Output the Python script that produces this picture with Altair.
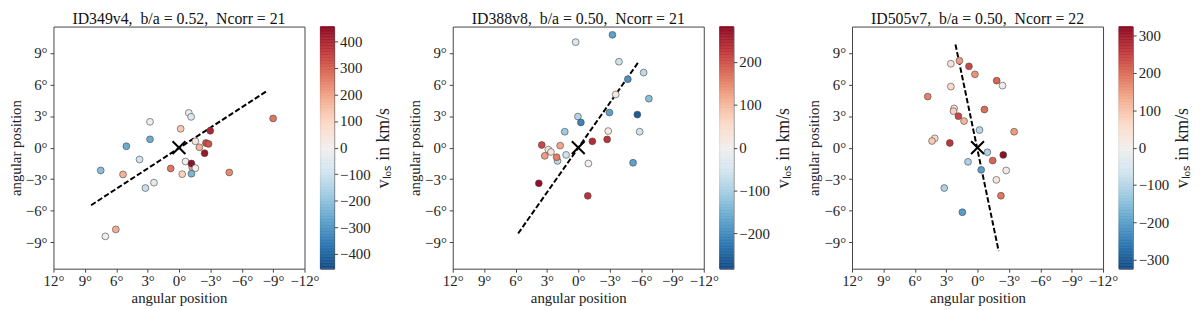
import altair as alt
import numpy as np
import pandas as pd

FONT = "Liberation Serif"
SP = "\u00a0"

titles = [
    f"ID349v4,{SP}{SP}b/a{SP}={SP}0.52,{SP}{SP}Ncorr{SP}={SP}21",
    f"ID388v8,{SP}{SP}b/a{SP}={SP}0.50,{SP}{SP}Ncorr{SP}={SP}21",
    f"ID505v7,{SP}{SP}b/a{SP}={SP}0.50,{SP}{SP}Ncorr{SP}={SP}22",
]
cbar_title = f"vₗₒₛ{SP}in{SP}km/s"
vmax = [455, 283, 324]
cbar_ticks = [
    [-400, -300, -200, -100, 0, 100, 200, 300, 400],
    [-200, -100, 0, 100, 200],
    [-300, -200, -100, 0, 100, 200, 300],
]
x_ticks = [12, 9, 6, 3, 0, -3, -6, -9, -12]
y_ticks = [9, 6, 3, 0, -3, -6, -9]

# panel 1
p1_x = [-0.94, -1.16, 2.77, -0.16, -2.99, -9.0, 2.77, 5.03, -1.57, -1.95, -2.58, -2.83, -2.45,
        3.77, -0.63, -1.26, -1.19, -1.57, -1.19, 0.79, -0.31, 7.48, 5.35, -4.81, 2.39, 3.21, 6.04, 7.04]
p1_y = [3.3, 2.92, 2.45, 1.79, 1.6, 2.77, 0.79, 0.13, 0.6, 0.03, 0.44, 0.35, -0.53,
        -1.13, -1.32, -1.86, -1.51, -1.95, -2.48, -1.98, -2.52, -2.17, -2.55, -2.36, -3.33, -3.84, -7.77, -8.43]
p1_v = [-30, -60, -20, 130, 400, 270, -250, -250, 40, 170, 330, 320, 430,
        -90, -10, 200, 450, 0, -230, 270, 110, -210, 170, 240, -50, -110, 180, -10]

# panel 2
p2_x = [-3.27, 0.25, -3.89, -6.25, -4.74, -3.58, -6.75, -2.98, -5.65, 0.03, -0.25, 1.29, -2.86, -5.87,
        -1.35, -2.76, 3.49, 2.86, 2.61, 1.73, 3.2, 1.98, 2.07, 1.16, -0.97, -5.24, 3.77, -0.91]
p2_y = [10.71, 10.02, 8.16, 7.13, 6.5, 5.05, 4.65, 3.33, 3.14, 2.95, 2.39, 1.51, 1.57, 1.51,
        0.6, 0.78, 0.25, -0.19, -0.41, 0.19, -0.78, -1.26, -0.91, -0.69, -1.51, -1.44, -3.39, -4.58]
p2_v = [-170, -40, -60, -80, -190, 20, -130, -170, -260, -90, -210, -110, 15, -60,
        240, 230, 210, 20, 30, 120, 130, -80, 160, -60, 0, -170, 280, 230]

# panel 3
p3_x = [2.55, 1.73, 0.82, 0.25, -1.83, -2.39, 2.55, 4.76, 2.24, 2.3, -0.66, 1.83, 1.29, -0.19,
        -3.5, 4.09, 4.35, 2.65, -0.94, -2.46, -1.45, 0.91, -0.35, -2.74, -1.8, 3.18, -2.24, 1.45]
p3_y = [7.97, 8.25, 7.72, 6.96, 6.36, 5.89, 5.8, 4.85, 3.72, 3.46, 3.62, 2.99, 2.52, 1.67,
        1.51, 0.88, 0.63, 0.44, -0.44, -0.69, -1.23, -1.35, -2.11, -2.17, -3.06, -3.84, -4.57, -6.14]
p3_v = [40, 150, 240, 160, 210, 10, 60, 180, 40, 80, 200, 240, 120, -100,
        150, 60, 90, 260, -110, 320, 210, -110, -200, 20, 30, -110, 190, -200]

# major-axis dashed lines (endpoints)
l1_x = [8.4, -8.5]
l1_y = [-5.47, 5.44]
l2_x = [5.75, -5.78]
l2_y = [-8.16, 8.16]
l3_x = [2.11, -2.02]
l3_y = [9.8, -9.83]

center_x = [0]
center_y = [0]

PX = [p1_x, p2_x, p3_x]
PY = [p1_y, p2_y, p3_y]
PV = [p1_v, p2_v, p3_v]
LX = [l1_x, l2_x, l3_x]
LY = [l1_y, l2_y, l3_y]

W, H = 254, 245
CB_W = 14
GAP = 16
SPACER = 120 - 2 * GAP


def cscale(i):
    return alt.Scale(scheme="redblue", reverse=True, domain=[-vmax[i], vmax[i]])


def panel(i):
    pts = pd.DataFrame({"x": PX[i], "y": PY[i], "v": PV[i]})
    ln = pd.DataFrame({"x": LX[i], "y": LY[i]})
    ctr = pd.DataFrame({"x": center_x, "y": center_y})
    xsc = alt.Scale(domain=[-12, 12], reverse=True, nice=False, zero=False)
    ysc = alt.Scale(domain=[-11.5, 11.5], nice=False, zero=False)
    xax = alt.Axis(values=x_ticks, title="angular position", labelExpr="datum.label + '°'",
                   titlePadding=2, labelPadding=2, labelOverlap=False, labelFlush=False,
                   labelSeparation=0)
    yax = alt.Axis(values=y_ticks, title="angular position", labelExpr="datum.label + '°'",
                   titlePadding=2, labelPadding=3, labelOverlap=False)
    X = alt.X("x:Q", scale=xsc, axis=xax)
    Y = alt.Y("y:Q", scale=ysc, axis=yax)
    line = alt.Chart(ln).mark_line(color="black", strokeDash=[5.5, 2.4], strokeWidth=2).encode(x=X, y=Y)
    dots = alt.Chart(pts).mark_circle(size=48, stroke="#444", strokeWidth=0.6, opacity=1).encode(
        x=X, y=Y, color=alt.Color("v:Q", scale=cscale(i), legend=None)
    )
    cross = alt.Chart(ctr).mark_point(
        shape="M-1,-1L1,1M-1,1L1,-1", size=170, stroke="black", strokeWidth=2, filled=False, opacity=1
    ).encode(x=X, y=Y)
    return alt.layer(line, dots, cross).properties(
        width=W, height=H,
        title=alt.TitleParams(titles[i], font=FONT, fontSize=16, fontWeight="normal", color="#111", offset=0),
    )


def cbar(i):
    edges = np.linspace(-vmax[i], vmax[i], 161)
    df = pd.DataFrame({"v0": edges[:-1], "v1": edges[1:]})
    df["vm"] = (df["v0"] + df["v1"]) / 2
    ysc = alt.Scale(domain=[-vmax[i], vmax[i]], nice=False, zero=False)
    return alt.Chart(df).mark_rect(strokeWidth=0.6).encode(
        x=alt.value(0), x2=alt.value(CB_W),
        y=alt.Y("v0:Q", scale=ysc, axis=alt.Axis(orient="right", values=cbar_ticks[i],
                                                  title=cbar_title, titleAngle=270, titleFontSize=18,
                                                  titleBaseline="top", titlePadding=5, labelPadding=2,
                                                  labelOverlap=False)),
        y2="v1:Q",
        color=alt.Color("vm:Q", scale=cscale(i), legend=None),
        stroke=alt.Stroke("vm:Q", scale=cscale(i), legend=None),
    ).properties(width=CB_W, height=H)


def spacer():
    return alt.Chart(pd.DataFrame({"a": [0]})).mark_point(opacity=0).encode(
        x=alt.value(0), y=alt.value(0)
    ).properties(width=SPACER, height=H, view=alt.ViewBackground(stroke="transparent"))


parts = []
for i in range(3):
    parts.append(panel(i))
    parts.append(cbar(i))
    if i < 2:
        parts.append(spacer())

chart = alt.hconcat(*parts, spacing=GAP, bounds="flush").resolve_scale(
    color="independent", stroke="independent"
).properties(background="white", padding=0).configure_axis(
    labelFont=FONT, titleFont=FONT, labelFontSize=15, titleFontSize=15, titleFontWeight="normal",
    labelColor="#222", titleColor="#222", tickColor="#444", tickSize=3.5, domain=False, grid=False,
    labelOverlap=False,
).configure_view(stroke="#444", strokeWidth=1)

chart.save("out.html", embed_options={"renderer": "svg", "actions": False})
